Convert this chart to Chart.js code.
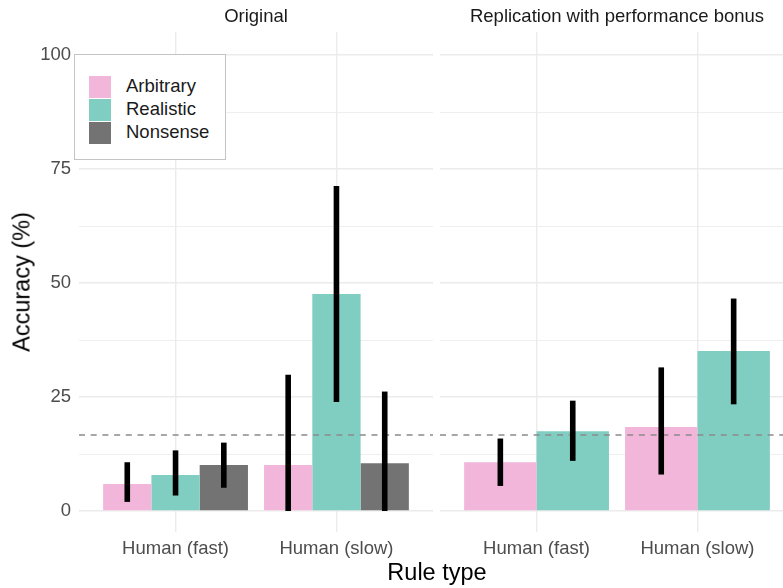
<!DOCTYPE html>
<html>
<head>
<meta charset="utf-8">
<script src="https://cdn.jsdelivr.net/npm/chart.js@4.4.1/dist/chart.umd.min.js"></script>
<style>
  html, body { margin:0; padding:0; width:783px; height:588px; overflow:hidden; background:#fff; font-family:"Liberation Sans", Arial, sans-serif; }
  .box { position:absolute; }
  .strip { position:absolute; top:5px; font-size:18.5px; color:#1A1A1A; text-align:center; white-space:nowrap; }
  #legend { position:absolute; left:74px; top:54px; width:150px; height:104px; background:#fff; border:1.3px solid #C4C4C4; }
  .item { position:absolute; left:14px; height:22px; }
  .key { position:absolute; left:0; top:0; width:22px; height:22px; }
  .lab { position:absolute; left:37px; top:-1px; font-size:18.5px; color:#1A1A1A; white-space:nowrap; line-height:22px; }
  #ytitle { position:absolute; left:22px; top:282px; transform:translate(-50%,-50%) rotate(-90deg); font-size:23.5px; color:#000; white-space:nowrap; }
  #xtitle { position:absolute; left:437px; top:572px; transform:translate(-50%,-50%); font-size:23.5px; color:#000; white-space:nowrap; }
</style>
</head>
<body>
<div class="box" style="left:0;top:0;width:436px;height:588px;"><canvas id="c1"></canvas></div>
<div class="box" style="left:437px;top:0;width:360px;height:588px;"><canvas id="c2"></canvas></div>
<div class="strip" id="s1"></div>
<div class="strip" id="s2"></div>
<div id="legend"></div>
<div id="ytitle">Accuracy (%)</div>
<div id="xtitle">Rule type</div>
<script>
// ---- data ----
const categories = ["Human (fast)", "Human (slow)"];
const panelTitles = ["Original", "Replication with performance bonus"];
const seriesNames = ["Arbitrary", "Realistic", "Nonsense"];
const seriesColors = ["#F1B6DA", "#80CDC1", "#737373"];
const yTicks = [0, 25, 50, 75, 100];
const chanceLevel = 100 / 6;

// Original panel
const origArbitrary = [5.9, 10.1];
const origArbitraryLo = [2.0, 0.0];
const origArbitraryHi = [10.7, 29.9];
const origRealistic = [7.9, 47.6];
const origRealisticLo = [3.4, 23.9];
const origRealisticHi = [13.3, 71.3];
const origNonsense = [10.1, 10.5];
const origNonsenseLo = [5.1, 0.0];
const origNonsenseHi = [15.0, 26.2];

// Replication panel
const repArbitrary = [10.7, 18.4];
const repArbitraryLo = [5.5, 8.0];
const repArbitraryHi = [15.9, 31.5];
const repRealistic = [17.5, 35.1];
const repRealisticLo = [11.0, 23.4];
const repRealisticHi = [24.2, 46.6];

// ---- helpers ----
function ds(name, vals, lo, hi) {
  const i = seriesNames.indexOf(name);
  return {
    label: name,
    data: vals.map((v, k) => ({ x: k + 1, y: v })),
    lo: lo, hi: hi,
    backgroundColor: seriesColors[i],
    borderWidth: 0,
    categoryPercentage: 0.9,
    barPercentage: 1.0
  };
}

const overlayPlugin = {
  id: 'overlay',
  afterDatasetsDraw(chart) {
    const ctx = chart.ctx, a = chart.chartArea, ys = chart.scales.y;
    ctx.save();
    ctx.beginPath(); ctx.rect(a.left, a.top, a.right - a.left, a.bottom - a.top); ctx.clip();
    const yc = ys.getPixelForValue(chanceLevel);
    ctx.strokeStyle = '#8A8A8A'; ctx.lineWidth = 1.6; ctx.setLineDash([6, 5.7]);
    ctx.beginPath(); ctx.moveTo(a.left, yc); ctx.lineTo(a.right, yc); ctx.stroke();
    ctx.setLineDash([]);
    ctx.strokeStyle = '#000'; ctx.lineWidth = 5.6; ctx.lineCap = 'butt';
    chart.data.datasets.forEach((d, i) => {
      const meta = chart.getDatasetMeta(i);
      meta.data.forEach((bar, k) => {
        const y1 = ys.getPixelForValue(d.lo[k]);
        const y2 = ys.getPixelForValue(d.hi[k]);
        ctx.beginPath(); ctx.moveTo(bar.x, y1); ctx.lineTo(bar.x, y2); ctx.stroke();
      });
    });
    ctx.restore();
  }
};

const yGridTicks = [];
for (let v = 0; v <= 100; v += 12.5) yGridTicks.push(v);

function makeChart(id, datasets, showY, padL, padR) {
  return new Chart(document.getElementById(id), {
    type: 'bar',
    data: { datasets: datasets },
    options: {
      responsive: true,
      maintainAspectRatio: false,
      animation: false,
      events: [],
      layout: { padding: { top: 32, bottom: 0, left: padL, right: padR } },
      plugins: { legend: { display: false }, tooltip: { enabled: false } },
      scales: {
        x: {
          type: 'linear', min: 0.4, max: 2.6, offset: false,
          afterBuildTicks(s) { s.ticks = categories.map((c, k) => ({ value: k + 1 })); },
          afterFit(s) { s.height = 56; },
          ticks: {
            callback: (v) => categories[Math.round(v) - 1] || '',
            font: { family: 'Liberation Sans', size: 18.5 },
            color: '#4D4D4D', padding: 6, maxRotation: 0, autoSkip: false
          },
          grid: { color: '#EBEBEB', lineWidth: 1.4, drawTicks: false, offset: false },
          border: { display: false }
        },
        y: {
          type: 'linear', min: -4.6, max: 105.05,
          afterBuildTicks(s) { s.ticks = yGridTicks.map(v => ({ value: v })); },
          afterFit(s) { s.width = showY ? 79 : 0; },
          ticks: {
            display: showY,
            callback: (v) => yTicks.includes(v) ? String(v) : '',
            font: { family: 'Liberation Sans', size: 18.5 },
            color: '#4D4D4D', padding: 8, autoSkip: false
          },
          grid: {
            color: '#EBEBEB', drawTicks: false,
            lineWidth: (c) => (c.tick && yTicks.includes(c.tick.value)) ? 1.4 : 0.8
          },
          border: { display: false }
        }
      }
    },
    plugins: [overlayPlugin]
  });
}

const chart1 = makeChart('c1', [
  ds('Arbitrary', origArbitrary, origArbitraryLo, origArbitraryHi),
  ds('Realistic', origRealistic, origRealisticLo, origRealisticHi),
  ds('Nonsense', origNonsense, origNonsenseLo, origNonsenseHi)
], true, 0, 3);

const chart2 = makeChart('c2', [
  ds('Arbitrary', repArbitrary, repArbitraryLo, repArbitraryHi),
  ds('Realistic', repRealistic, repRealisticLo, repRealisticHi)
], false, 3, 3);

function placeStrip(el, chart, offsetX, text) {
  const a = chart.chartArea;
  el.textContent = text;
  el.style.left = (offsetX + a.left) + 'px';
  el.style.width = (a.right - a.left) + 'px';
}
placeStrip(document.getElementById('s1'), chart1, 0, panelTitles[0]);
placeStrip(document.getElementById('s2'), chart2, 437, panelTitles[1]);

const lg = document.getElementById('legend');
seriesNames.forEach((n, i) => {
  const it = document.createElement('div');
  it.className = 'item';
  it.style.top = (21 + i * 23) + 'px';
  it.innerHTML = '<div class="key" style="background:' + seriesColors[i] + '"></div><div class="lab">' + n + '</div>';
  lg.appendChild(it);
});
</script>
</body>
</html>
